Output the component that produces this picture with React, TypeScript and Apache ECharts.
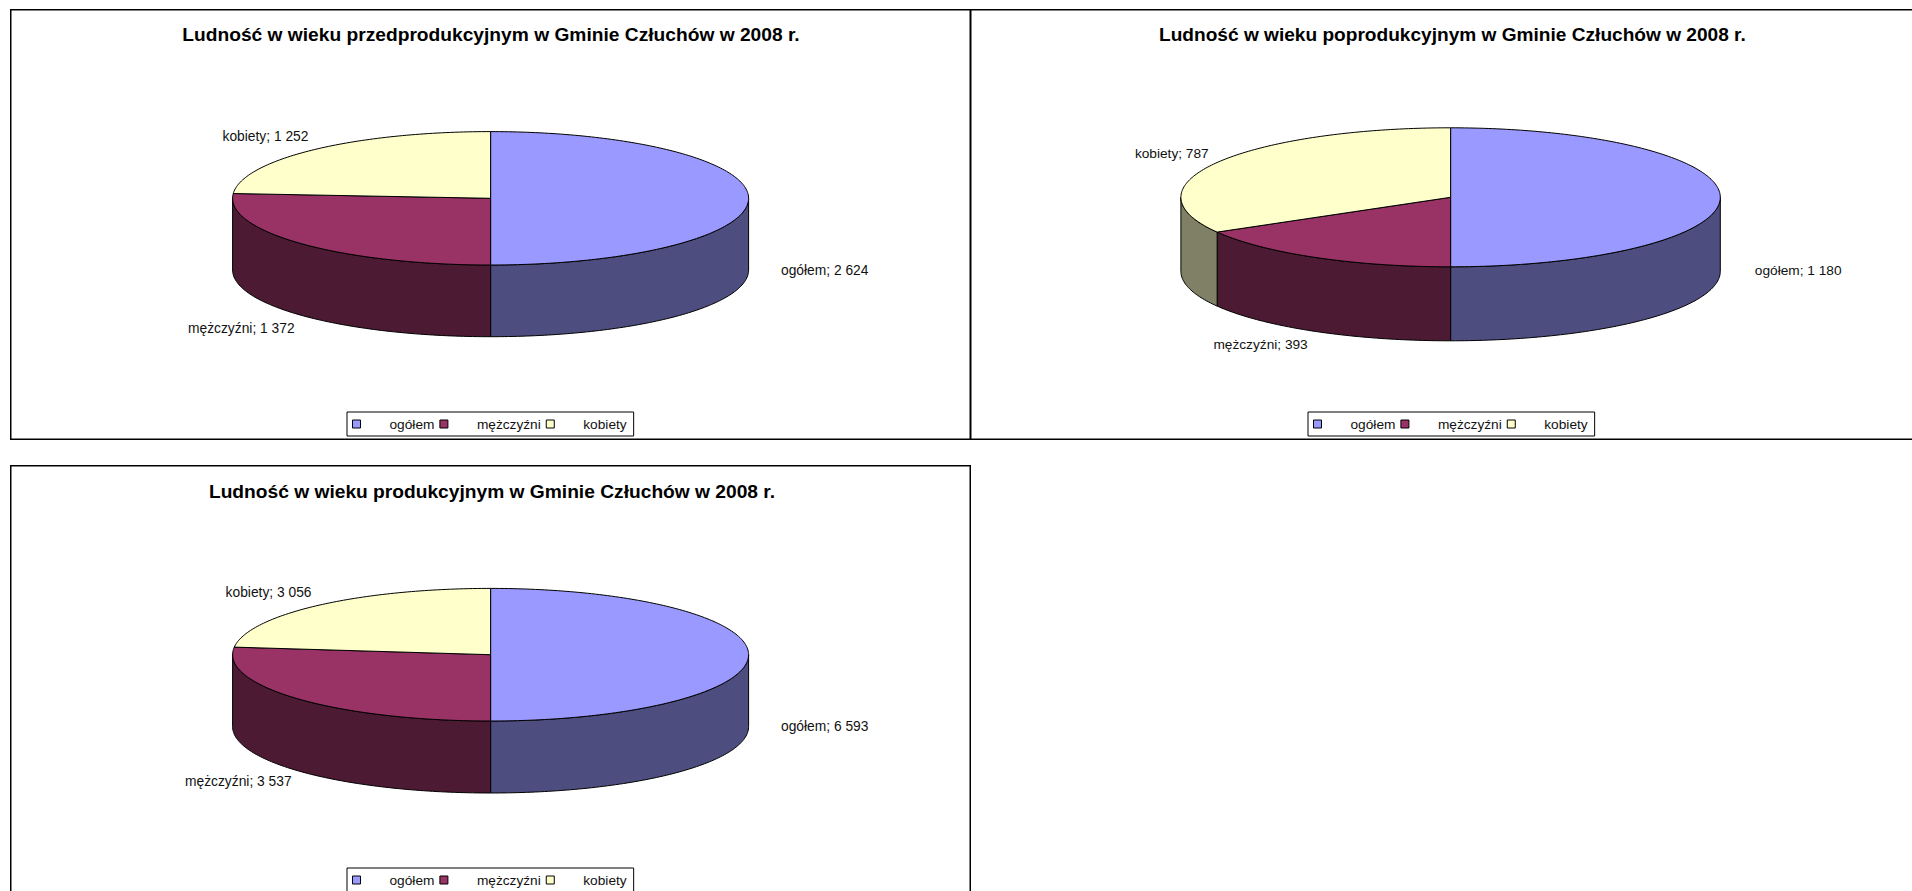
import React, { useEffect, useRef } from "react";
import * as echarts from "echarts";

const categories = ["ogółem", "mężczyźni", "kobiety"];
const preWorkingValues = [2624, 1372, 1252];
const postWorkingValues = [1180, 393, 787];
const workingValues = [6593, 3537, 3056];
const titles = [
  "Ludność w wieku przedprodukcyjnym w Gminie Człuchów w 2008 r.",
  "Ludność w wieku poprodukcyjnym w Gminie Człuchów w 2008 r.",
  "Ludność w wieku produkcyjnym w Gminie Człuchów w 2008 r.",
];
const topColors = ["#9999FF", "#993366", "#FFFFCC"];
const sideColors = ["#4D4D80", "#4D1A33", "#808066"];
const FONT = '"Liberation Sans", Arial, sans-serif';

const panels = [
  {
    values: preWorkingValues, title: titles[0],
    box: { left: 10, top: 9, width: 961, height: 431 },
    pie: { cx: 480.6, cy: 189.3, rx: 258, ry: 66.7, depth: 71.7 },
    labels: [[771, 261.7], [178, 319.7], [212.5, 127.7]],
    legendLeft: 337, titleX: 481, titleTop: 16, fs: 13.8, tfs: 19.2,
  },
  {
    values: postWorkingValues, title: titles[1],
    box: { left: 970, top: 9, width: 961, height: 431 },
    pie: { cx: 480.6, cy: 188.3, rx: 269.7, ry: 69.5, depth: 74 },
    labels: [[784.8, 261.7], [243.4, 335], [164.9, 144.3]],
    legendLeft: 338, titleX: 482.4, titleTop: 16, fs: 13.7, tfs: 19.1,
  },
  {
    values: workingValues, title: titles[2],
    box: { left: 10, top: 465, width: 961, height: 431 },
    pie: { cx: 480.6, cy: 189.7, rx: 258, ry: 66.3, depth: 72 },
    labels: [[771, 261.7], [175, 316], [215.6, 127.7]],
    legendLeft: 337, titleX: 482, titleTop: 17, fs: 13.8, tfs: 19.2,
  },
];

const fmt = (v: number) => String(v).replace(/\B(?=(\d{3})+$)/g, " ");

function buildOption(p: (typeof panels)[number]) {
  const total = p.values.reduce((a, b) => a + b, 0);
  const { cx, cy, rx, ry, depth } = p.pie;
  const pt = (deg: number, dy = 0) => {
    const t = (deg * Math.PI) / 180;
    return [cx + rx * Math.sin(t), cy - ry * Math.cos(t) + dy];
  };
  const arc = (a: number, b: number, dy = 0) => {
    const out: number[][] = [];
    const n = Math.max(2, Math.ceil(Math.abs(b - a)));
    for (let i = 0; i <= n; i++) out.push(pt(a + ((b - a) * i) / n, dy));
    return out;
  };
  const series = categories.map((name, idx) => {
    const start = (p.values.slice(0, idx).reduce((a, b) => a + b, 0) / total) * 360;
    const renderItem = (_: any, api: any) => {
      const sweep = (api.value(0) / total) * 360;
      const end = start + sweep;
      const children: any[] = [];
      const a = Math.max(start, 90);
      const b = Math.min(end, 270);
      if (b > a) {
        children.push({
          type: "polygon",
          shape: { points: [...arc(a, b), ...arc(b, a, depth)] },
          style: { fill: sideColors[idx], stroke: "#000", lineWidth: 1, lineJoin: "round" },
        });
      }
      children.push({
        type: "polygon",
        shape: { points: [[cx, cy], ...arc(start, end)] },
        style: { fill: topColors[idx], stroke: "#000", lineWidth: 1, lineJoin: "round" },
      });
      children.push({
        type: "text",
        x: p.labels[idx][0],
        y: p.labels[idx][1],
        style: {
          text: `${name}; ${fmt(api.value(0))}`,
          fill: "#111",
          font: `${p.fs}px ${FONT}`,
          verticalAlign: "middle",
          align: "left",
        },
      });
      return { type: "group", children };
    };
    return {
      type: "custom" as const,
      name,
      coordinateSystem: "none",
      itemStyle: { color: topColors[idx] },
      data: [{ name, value: [p.values[idx]] }],
      renderItem,
      silent: true,
    };
  });
  return {
    animation: false,
    backgroundColor: "#fff",
    title: {
      text: p.title,
      left: p.titleX,
      textAlign: "center",
      top: p.titleTop,
      padding: 0,
      textStyle: { fontFamily: FONT, fontSize: p.tfs, fontWeight: "bold", color: "#000" },
    },
    legend: {
      left: p.legendLeft,
      top: 403,
      width: 330,
      orient: "horizontal",
      selectedMode: false,
      icon: "rect",
      itemWidth: 8,
      itemHeight: 8,
      itemGap: 5,
      padding: [5, 7, 5, 5],
      borderColor: "#000",
      borderWidth: 1,
      backgroundColor: "#fff",
      itemStyle: { borderColor: "#000", borderWidth: 1 },
      textStyle: { fontFamily: FONT, fontSize: 13.7, color: "#111", padding: [0, 0, 0, 24] },
      data: categories,
    },
    graphic: [
      {
        type: "rect",
        silent: true,
        z: -1,
        shape: { x: 0.75, y: 0.75, width: p.box.width - 1.5, height: p.box.height - 1.5 },
        style: { fill: "#fff", stroke: "#000", lineWidth: 1.5 },
      },
    ],
    series,
  };
}

function Panel({ p }: { p: (typeof panels)[number] }) {
  const ref = useRef<HTMLDivElement>(null);
  useEffect(() => {
    const chart = echarts.init(ref.current!, undefined, { renderer: "svg" });
    chart.setOption(buildOption(p) as any);
    return () => chart.dispose();
  }, [p]);
  return (
    <div
      ref={ref}
      style={{ position: "absolute", left: p.box.left, top: p.box.top, width: p.box.width, height: p.box.height }}
    />
  );
}

export default function App() {
  return (
    <div style={{ position: "fixed", left: 0, top: 0, width: 1912, height: 891, overflow: "hidden", background: "#fff" }}>
      {panels.map((p, i) => (
        <Panel key={i} p={p} />
      ))}
    </div>
  );
}
